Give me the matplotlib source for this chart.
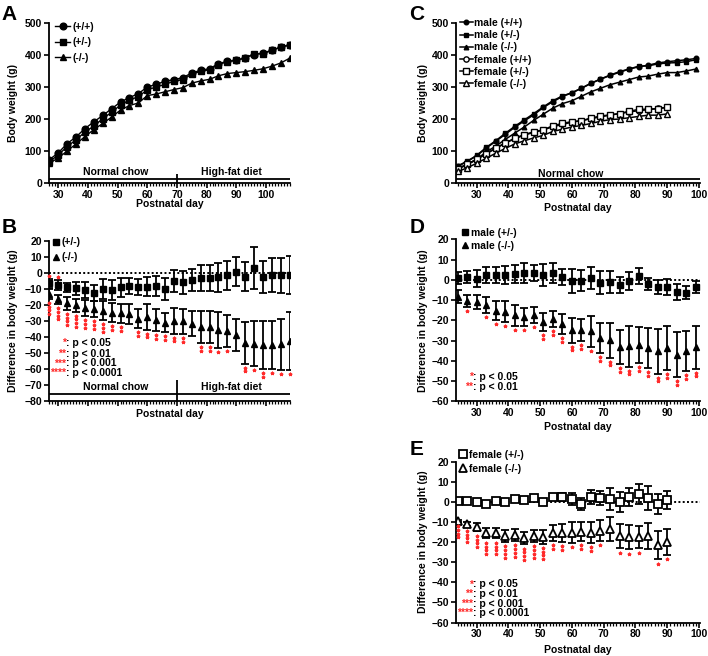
import matplotlib
matplotlib.use('Agg')
import matplotlib.pyplot as plt
from matplotlib.ticker import MultipleLocator, FixedLocator
from matplotlib.transforms import offset_copy
from matplotlib.lines import Line2D

plt.rcParams['font.family'] = ['Liberation Sans', 'DejaVu Sans']
plt.rcParams['font.weight'] = 'bold'
plt.rcParams['axes.labelweight'] = 'bold'
plt.rcParams['font.size'] = 7.5
plt.rcParams['axes.linewidth'] = 1.3

RED = '#ff2a2a'

# ---------------- data ----------------
# A / B : all animals, normal chow then high-fat diet from day 70
days_ab = [27, 30, 33, 36, 39, 42, 45, 48, 51, 54, 57, 60, 63, 66,
           69, 72, 75, 78, 81, 84, 87, 90, 93, 96, 99, 102, 105, 108]
wt_a = [73, 94, 123, 144, 170, 191, 211, 232, 253, 267, 279, 300, 308, 318,
        323, 329, 344, 352, 357, 373, 380, 383, 392, 401, 406, 415, 425, 432]
het_a = [67, 87, 114, 135, 159, 178, 201, 221, 244, 259, 270, 291, 300, 308,
         318, 323, 340, 349, 354, 370, 379, 384, 390, 404, 404, 414, 424, 431]
ko_a = [62, 78, 100, 122, 145, 167, 186, 206, 228, 242, 250, 273, 278, 285,
        292, 298, 312, 319, 324, 335, 342, 345, 348, 352, 357, 365, 375, 390]

het_b = [-6.7, -7.7, -9.2, -9.8, -10.8, -12.9, -10.2, -10.8, -9.2, -8.3, -8.8, -8.8, -8.3, -10.2,
         -5.0, -6.0, -4.6, -3.1, -3.3, -2.9, -1.5, 0.6, -2.5, 3.1, -2.5, -1.5, -1.5, -1.5]
het_b_err = [3, 3, 3, 4, 5, 5, 6, 6, 6, 5, 5, 6, 6, 7,
             7, 7, 7, 8, 8, 9, 9, 9, 9, 13, 10, 10.5, 11, 12]
ko_b = [-13.3, -16.7, -19.2, -20.2, -22.3, -22.7, -23.8, -25.0, -25.4, -25.8, -28.8, -27.5, -29.6, -31.3,
        -30.0, -30.4, -31.7, -33.8, -33.8, -35.8, -36.3, -39.0, -43.8, -44.2, -45.2, -45.2, -44.6, -42.7]
ko_b_err = [3, 3, 4, 4, 5, 5, 6, 6, 6, 6, 6, 8, 7, 6,
            8, 8, 8, 10, 10, 11, 10, 10, 13, 14, 15, 15, 16, 18]
ko_b_stars = [4, 4, 4, 4, 3, 3, 3, 2, 2, 0, 2, 2, 2, 2,
              2, 2, 0, 2, 2, 1, 1, 0, 2, 1, 2, 1, 1, 1]
het_b_stars = [1, 1, 0, 0, 0, 0, 0, 0, 0, 0, 0, 0, 0, 0,
               0, 0, 0, 0, 0, 0, 0, 0, 0, 0, 0, 0, 0, 0]

# C / D / E : by sex, normal chow
days_m = [24, 27, 30, 33, 36, 39, 42, 45, 48, 51, 54, 57, 60,
          63, 66, 69, 72, 75, 78, 81, 84, 87, 90, 93, 96, 99]
days_f = [24, 27, 30, 33, 36, 39, 42, 45, 48, 51, 54, 57,
          60, 63, 66, 69, 72, 75, 78, 81, 84, 87, 90]

m_wt = [52, 67, 85, 109, 130, 152, 174, 194, 213, 236, 254, 270, 282,
        296, 311, 325, 337, 348, 356, 363, 368, 375, 379, 382, 385, 389]
m_het = [53, 68, 86, 111, 132, 155, 177, 197, 217, 238, 257, 272, 282,
         296, 312, 324, 336, 346, 356, 365, 366, 372, 375, 376, 379, 385]
m_ko = [44, 57, 74, 97, 115, 136, 156, 175, 196, 215, 234, 248, 257,
        271, 285, 296, 307, 315, 323, 331, 334, 340, 345, 345, 350, 356]
f_wt = [45, 58, 74, 92, 108, 125, 138, 150, 158, 166, 176, 183,
        190, 195, 201, 207, 212, 217, 222, 226, 229, 233, 236]
f_het = [45, 58, 74, 91, 109, 125, 140, 151, 160, 166, 179, 186,
         192, 194, 203, 209, 213, 217, 224, 230, 231, 232, 237]
f_ko = [36, 47, 62, 77, 93, 108, 122, 132, 141, 149, 161, 168,
        175, 180, 186, 193, 198, 200, 204, 208, 212, 212, 216]

het_d = [0.8, 1.3, 0.7, 2.5, 2.3, 2.6, 2.8, 3.3, 3.6, 2.5, 3.6, 1.6, -0.5,
         -0.3, 1.0, -1.3, -1.1, -2.5, -0.5, 2.0, -1.8, -3.3, -3.6, -6.1, -6.2, -3.6]
het_d_err = [3, 3, 4, 4, 4, 4.5, 4.5, 5, 4, 5.5, 5, 4, 6,
             5, 5.5, 5.5, 5.5, 4, 4.5, 4, 3, 3.5, 4, 4, 3, 3]
ko_d = [-8.2, -10.2, -10.7, -12.3, -15.1, -15.6, -17.5, -18.4, -17.2, -20.7, -19.3, -21.6, -24.9,
        -24.6, -25.4, -28.7, -29.8, -33.1, -32.8, -32.0, -33.6, -35.2, -33.6, -36.9, -35.2, -33.3]
ko_d_err = [3, 3, 3.5, 4, 4.5, 5, 5, 4.5, 4, 4.5, 4, 5, 6,
            5.5, 7.5, 7.5, 8.5, 8.5, 10, 9, 10, 11, 11, 11, 10, 10.5]
ko_d_stars = [0, 1, 0, 1, 1, 1, 1, 1, 1, 2, 2, 2, 2,
              2, 1, 2, 2, 2, 2, 2, 2, 2, 2, 2, 2, 2]

het_e = [0.3, 0.5, 0.2, -1.0, 0.7, 0.2, 1.5, 0.8, 2.2, -0.2, 2.6, 2.6,
         1.5, -1.2, 2.3, 1.8, 1.3, 0.2, 2.3, 4.0, 2.2, -1.0, 1.0]
het_e_err = [0.5, 0.5, 0.5, 0.5, 1, 0.5, 0.5, 1, 1, 1.5, 1, 2,
             3, 3, 3.5, 3.5, 5.5, 5, 4.5, 5, 6, 5, 4.5]
ko_e = [-9.3, -11.1, -12.6, -15.6, -15.6, -16.9, -16.4, -18.0, -16.9, -17.2, -15.2, -15.2,
        -15.2, -14.7, -15.2, -14.2, -13.6, -16.9, -17.5, -17.5, -16.9, -21.4, -19.7]
ko_e_err = [0.5, 1, 2, 2.5, 2.5, 3, 3, 3, 3, 3.5, 4, 4.5,
            5, 4.5, 5, 5, 6, 6, 6, 5.5, 6.5, 7, 6.5]
ko_e_stars = [4, 4, 4, 4, 4, 4, 4, 4, 4, 4, 2, 2,
              1, 2, 2, 1, 0, 1, 1, 1, 0, 1, 1]

sig_labels = [': p < 0.05', ': p < 0.01', ': p < 0.001', ': p < 0.0001']
DIET_SWITCH = 70

# ---------------- figure ----------------
fig = plt.figure(figsize=(7.08, 6.56), dpi=100)

axA = fig.add_axes([0.0692, 0.721, 0.3404, 0.244])
axB = fig.add_axes([0.0692, 0.389, 0.3404, 0.244])
axC = fig.add_axes([0.644, 0.721, 0.3446, 0.244])
axD = fig.add_axes([0.644, 0.388, 0.3446, 0.247])
axE = fig.add_axes([0.644, 0.051, 0.3446, 0.245])


def style(ax, xlim, ylim, ystep, xlabels=True):
    ax.spines['top'].set_visible(False)
    ax.spines['right'].set_visible(False)
    ax.set_xlim(*xlim)
    ax.set_ylim(*ylim)
    ax.xaxis.set_major_locator(FixedLocator([30, 40, 50, 60, 70, 80, 90, 100]))
    ax.xaxis.set_minor_locator(MultipleLocator(1))
    ax.yaxis.set_major_locator(MultipleLocator(ystep))
    ax.tick_params(axis='both', which='major', length=3.5, width=1.2, pad=1.5, labelsize=7.5)
    ax.tick_params(axis='x', which='minor', length=2.5, width=0.9)
    if not xlabels:
        ax.tick_params(axis='x', labelbottom=False)
    for lab in ax.get_xticklabels() + ax.get_yticklabels():
        lab.set_fontweight('bold')


def stars(ax, x, y, err, counts, sign=-1, first=4, step=3.7):
    # stacked red asterisks just past the error-bar cap
    for k in range(max(counts)):
        xs = [xi for xi, c in zip(x, counts) if c > k]
        ys = [yi + sign * ei for yi, ei, c in zip(y, err, counts) if c > k]
        tr = offset_copy(ax.transData, fig=fig, x=0, y=sign * (first + k * step), units='dots')
        ax.plot(xs, ys, ls='none', marker=(5, 2, 0), ms=2.6, mew=0.8,
                color=RED, transform=tr, clip_on=False, zorder=5)


def sig_legend(x, ys, n):
    for i in range(n):
        fig.text(x, ys[i], '*' * (i + 1), color=RED, ha='right', va='center', fontsize=7.5)
        fig.text(x, ys[i], sig_labels[i], ha='left', va='center', fontsize=7.5)


def labels(ax, xl, yl, xpos, ypos):
    ax.set_xlabel(xl, fontsize=7.5, fontweight='bold')
    ax.set_ylabel(yl, fontsize=7.5, fontweight='bold')
    ax.xaxis.label.set_va('center')
    ax.yaxis.label.set_va('center')
    ax.xaxis.set_label_coords(0.5, xpos)
    ax.yaxis.set_label_coords(ypos, 0.5)


# ---- A ----
axA.plot(days_ab, wt_a, '-o', color='black', ms=4.8, lw=1, label='(+/+)')
axA.plot(days_ab, het_a, '-s', color='black', ms=4.8, lw=1, label='(+/-)')
axA.plot(days_ab, ko_a, '-^', color='black', ms=4.8, lw=1, label='(-/-)')
style(axA, (26.9, 108.1), (0, 500), 100)
axA.axhline(14, color='black', lw=1.3)
axA.vlines(DIET_SWITCH, 0, 28, color='black', lw=1.3)
axA.text(49.5, 35, 'Normal chow', ha='center', va='center', fontsize=7.5)
axA.text(88.5, 35, 'High-fat diet', ha='center', va='center', fontsize=7.5)
labels(axA, 'Postnatal day', 'Body weight (g)', -0.131, -0.149)
axA.legend(loc='upper left', bbox_to_anchor=(0.0777, 0.967), bbox_transform=fig.transFigure,
           frameon=False, borderpad=0, handlelength=1.45, handletextpad=0.2,
           labelspacing=0.55, fontsize=7.5, borderaxespad=0)

# ---- B ----
axB.axhline(0, color='black', ls=(0, (1, 1.2)), lw=1.4, zorder=0)
axB.errorbar(days_ab, het_b, yerr=het_b_err, fmt='s', color='black', ms=5,
             capsize=3, elinewidth=1.3, capthick=1.3, label='(+/-)')
axB.errorbar(days_ab, ko_b, yerr=ko_b_err, fmt='^', color='black', ms=5,
             capsize=3, elinewidth=1.3, capthick=1.3, label='(-/-)')
stars(axB, days_ab, ko_b, ko_b_err, ko_b_stars)
stars(axB, days_ab, het_b, het_b_err, het_b_stars, sign=1, first=3)
style(axB, (26.9, 108.1), (-80, 20), 10, xlabels=False)
axB.axhline(-76, color='black', lw=1.3)
axB.vlines(DIET_SWITCH, -80, -67, color='black', lw=1.3)
axB.text(49.5, -71.5, 'Normal chow', ha='center', va='center', fontsize=7.5)
axB.text(88.5, -71.5, 'High-fat diet', ha='center', va='center', fontsize=7.5)
labels(axB, 'Postnatal day', 'Difference in body weight (g)', -0.083, -0.149)
hB = [Line2D([], [], ls='none', marker='s', color='black', ms=5),
      Line2D([], [], ls='none', marker='^', color='black', ms=5)]
axB.legend(hB, ['(+/-)', '(-/-)'], loc='upper left', bbox_to_anchor=(0.073, 0.638),
           bbox_transform=fig.transFigure, frameon=False, borderpad=0, handlelength=0.8,
           handletextpad=0.1, labelspacing=0.45, fontsize=7.5, borderaxespad=0)
sig_legend(0.0932, [0.477, 0.461, 0.446, 0.431], 4)

# ---- C ----
axC.plot(days_m, m_wt, '-o', color='black', ms=3.3, lw=1.1, label='male (+/+)')
axC.plot(days_m, m_het, '-s', color='black', ms=3.3, lw=1.1, label='male (+/-)')
axC.plot(days_m, m_ko, '-^', color='black', ms=3.3, lw=1.1, label='male (-/-)')
axC.plot(days_f, f_wt, '-o', color='black', mfc='white', ms=3.8, lw=1.1, label='female (+/+)')
axC.plot(days_f, f_het, '-s', color='black', mfc='white', ms=4.2, lw=1.1, label='female (+/-)')
axC.plot(days_f, f_ko, '-^', color='black', mfc='white', ms=4.2, lw=1.1, label='female (-/-)')
style(axC, (23.5, 100.3), (0, 500), 100)
axC.axhline(11.5, color='black', lw=1.3)
axC.text(59.5, 28, 'Normal chow', ha='center', va='center', fontsize=7.5)
labels(axC, 'Postnatal day', 'Body weight (g)', -0.156, -0.135)
axC.legend(loc='upper left', bbox_to_anchor=(0.6497, 0.9726), bbox_transform=fig.transFigure,
           frameon=False, borderpad=0, handlelength=1.25, handletextpad=0.1,
           labelspacing=0.21, fontsize=7.5, borderaxespad=0)

# ---- D ----
axD.axhline(0, color='black', ls=(0, (1, 1.2)), lw=1.4, zorder=0)
axD.errorbar(days_m, het_d, yerr=het_d_err, fmt='s', color='black', ms=5,
             capsize=3, elinewidth=1.3, capthick=1.3)
axD.errorbar(days_m, ko_d, yerr=ko_d_err, fmt='^', color='black', ms=5,
             capsize=3, elinewidth=1.3, capthick=1.3)
stars(axD, days_m, ko_d, ko_d_err, ko_d_stars)
style(axD, (23.5, 100.3), (-60, 20), 10)
labels(axD, 'Postnatal day', 'Difference in body weight (g)', -0.156, -0.135)
axD.legend(hB, ['male (+/-)', 'male (-/-)'], loc='upper left', bbox_to_anchor=(0.651, 0.6524),
           bbox_transform=fig.transFigure, frameon=False, borderpad=0, handlelength=0.8,
           handletextpad=0.15, labelspacing=0.25, fontsize=7.5, borderaxespad=0)
sig_legend(0.668, [0.425, 0.410], 2)

# ---- E ----
axE.axhline(0, color='black', ls=(0, (1, 1.2)), lw=1.4, zorder=0)
axE.errorbar(days_f, het_e, yerr=het_e_err, fmt='s', color='black', mfc='white', ms=5.5,
             mew=1.3, capsize=3, elinewidth=1.3, capthick=1.3)
axE.errorbar(days_f, ko_e, yerr=ko_e_err, fmt='^', color='black', mfc='white', ms=5.5,
             mew=1.3, capsize=3, elinewidth=1.3, capthick=1.3)
stars(axE, days_f, ko_e, ko_e_err, ko_e_stars, first=4.5)
style(axE, (23.5, 100.3), (-60, 20), 10)
labels(axE, 'Postnatal day', 'Difference in body weight (g)', -0.17, -0.136)
hE = [Line2D([], [], ls='none', marker='s', color='black', mfc='white', ms=5.5, mew=1.3),
      Line2D([], [], ls='none', marker='^', color='black', mfc='white', ms=5.5, mew=1.3)]
axE.legend(hE, ['female (+/-)', 'female (-/-)'], loc='upper left', bbox_to_anchor=(0.648, 0.314),
           bbox_transform=fig.transFigure, frameon=False, borderpad=0, handlelength=0.8,
           handletextpad=0.15, labelspacing=0.35, fontsize=7.5, borderaxespad=0)
sig_legend(0.668, [0.109, 0.094, 0.080, 0.066], 4)

# panel letters
for x, y, s in [(0.002, 0.993, 'A'), (0.002, 0.668, 'B'), (0.578, 0.993, 'C'),
                (0.578, 0.667, 'D'), (0.578, 0.330, 'E')]:
    fig.text(x, y, s, fontsize=15, fontweight='bold', va='top')

fig.savefig('out.png', dpi=100)
